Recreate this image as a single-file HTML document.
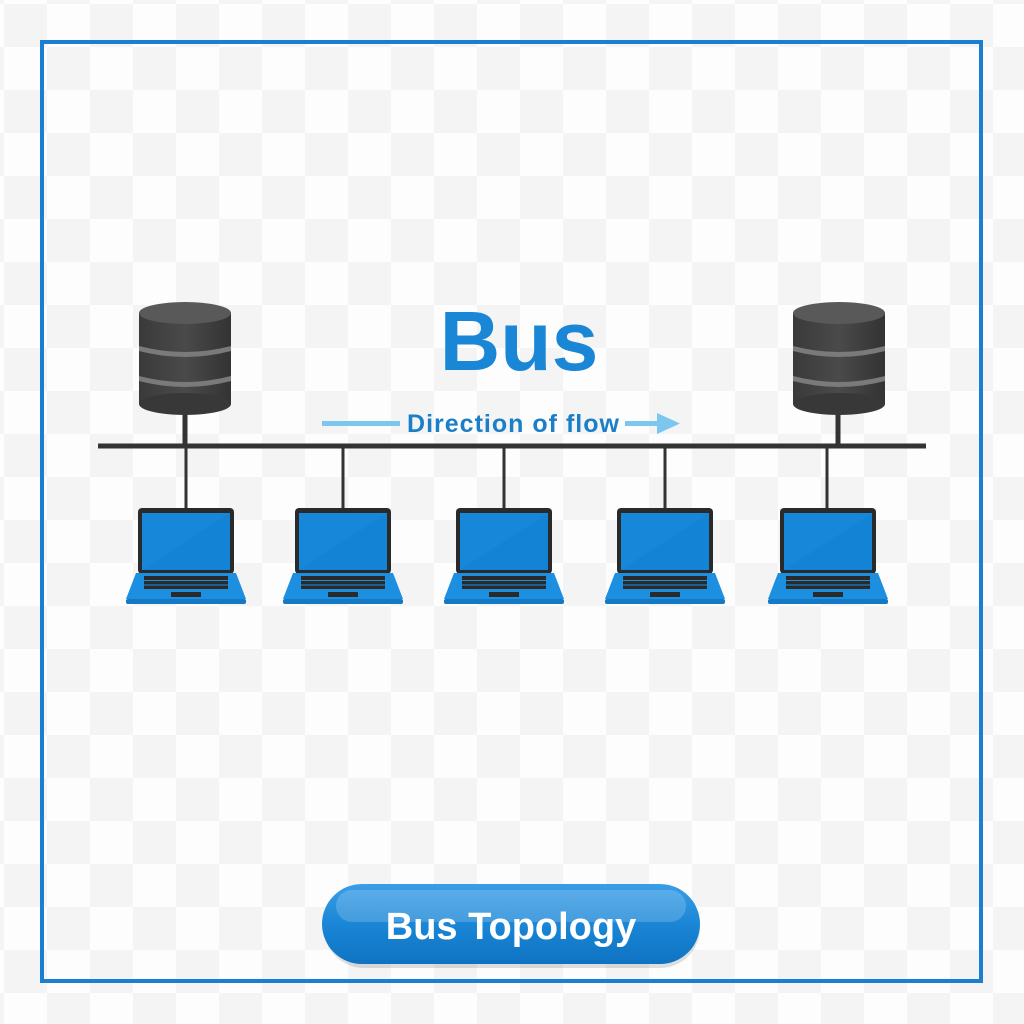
<!DOCTYPE html>
<html><head><meta charset="utf-8"><style>
html,body{margin:0;padding:0;width:1024px;height:1024px;overflow:hidden;background:#fff}
</style></head><body>
<svg width="1024" height="1024" viewBox="0 0 1024 1024" xmlns="http://www.w3.org/2000/svg">
<defs>
<pattern id="chk" width="86" height="86" patternUnits="userSpaceOnUse" x="4" y="4">
<rect width="86" height="86" fill="#fdfdfd"/>
<rect width="43" height="43" fill="#f4f4f4"/>
<rect x="43" y="43" width="43" height="43" fill="#f4f4f4"/>
</pattern>
<linearGradient id="btn" x1="0" y1="0" x2="0" y2="1">
<stop offset="0" stop-color="#3a9ee6"/><stop offset="0.5" stop-color="#1a86d6"/><stop offset="1" stop-color="#0f73c2"/>
</linearGradient>
<linearGradient id="cyl" x1="0" y1="0" x2="1" y2="0">
<stop offset="0" stop-color="#3a3a3a"/><stop offset="0.5" stop-color="#4a4a4a"/><stop offset="1" stop-color="#333"/>
</linearGradient>
<g id="laptop">
<rect x="-48" y="0" width="96" height="66" rx="4" fill="#2a2a2a"/>
<rect x="-44" y="5" width="88" height="57" fill="#1787da"/>
<polygon points="-44,62 44,5 44,62" fill="#0f7fd0" opacity="0.5"/>
<polygon points="-50,65 50,65 60,91 -60,91" fill="#1c8fe0"/>
<rect x="-60" y="91" width="120" height="5" rx="2" fill="#1578c4"/>
<rect x="-42" y="68" width="84" height="13" fill="#2a2a2a"/>
<g stroke="#1c8fe0" stroke-width="1">
<line x1="-42" y1="72.5" x2="42" y2="72.5"/><line x1="-42" y1="77" x2="42" y2="77"/>
</g>
<rect x="-15" y="84" width="30" height="5" fill="#2a2a2a"/>
</g>
<g id="server">
<rect x="-46" y="11" width="92" height="91" fill="url(#cyl)"/>
<ellipse cx="0" cy="102" rx="46" ry="11" fill="#383838"/>
<path d="M-46,44 Q0,56 46,44 v5 Q0,61 -46,49 z" fill="#7a7a7a"/>
<path d="M-46,74 Q0,86 46,74 v5 Q0,91 -46,79 z" fill="#7a7a7a"/>
<ellipse cx="0" cy="11" rx="46" ry="11" fill="#595959"/>
</g>
</defs>
<rect width="1024" height="1024" fill="url(#chk)"/>
<rect x="42" y="42" width="939" height="939" fill="none" stroke="#1a7fd0" stroke-width="4"/>

<text x="519" y="370" text-anchor="middle" font-family="Liberation Sans, sans-serif" font-weight="bold" font-size="84" fill="#1a86d6">Bus</text>
<rect x="322" y="421" width="78" height="5" fill="#7cc6f0"/>
<rect x="625" y="421" width="38" height="5" fill="#7cc6f0"/>
<polygon points="657,413 680,423.5 657,434" fill="#7cc6f0"/>
<text x="513" y="432" text-anchor="middle" textLength="212" font-family="Liberation Sans, sans-serif" font-weight="bold" font-size="25" fill="#1a7fc8">Direction of flow</text>

<line x1="185" y1="410" x2="185" y2="446" stroke="#333" stroke-width="5"/>
<line x1="838" y1="410" x2="838" y2="446" stroke="#333" stroke-width="5"/>
<line x1="98" y1="446" x2="926" y2="446" stroke="#333" stroke-width="5"/>
<g stroke="#333" stroke-width="3">
<line x1="186" y1="446" x2="186" y2="508"/>
<line x1="343" y1="446" x2="343" y2="508"/>
<line x1="504" y1="446" x2="504" y2="508"/>
<line x1="665" y1="446" x2="665" y2="508"/>
<line x1="827" y1="446" x2="827" y2="508"/>
</g>
<use href="#server" x="185" y="302"/>
<use href="#server" x="839" y="302"/>
<use href="#laptop" x="186" y="508"/>
<use href="#laptop" x="343" y="508"/>
<use href="#laptop" x="504" y="508"/>
<use href="#laptop" x="665" y="508"/>
<use href="#laptop" x="828" y="508"/>

<rect x="324" y="888" width="376" height="80" rx="40" fill="#000" opacity="0.12"/>
<rect x="322" y="884" width="378" height="80" rx="40" fill="url(#btn)"/>
<rect x="336" y="890" width="350" height="32" rx="16" fill="#ffffff" opacity="0.18"/>
<text x="511" y="939" text-anchor="middle" font-family="Liberation Sans, sans-serif" font-weight="bold" font-size="38" fill="#ffffff">Bus Topology</text>
</svg>
</body></html>
